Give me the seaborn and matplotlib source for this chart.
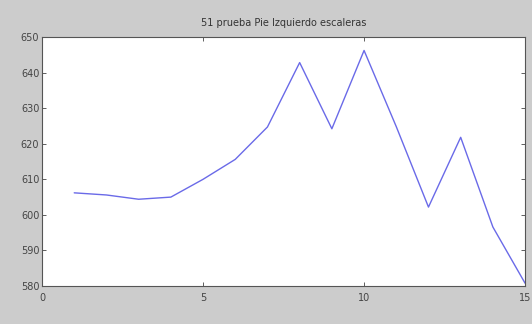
import matplotlib
matplotlib.use("Agg")
import matplotlib.pyplot as plt
import seaborn as sns
import pandas as pd

# Sample index and measured values
muestras = list(range(1, 16))
valores = [606.2, 605.6, 604.4, 605.0, 610.0, 615.6, 624.7, 642.8, 624.2,
           646.2, 624.8, 602.2, 621.8, 596.6, 580.8]
x_ticks = [0, 5, 10, 15]
y_ticks = [580, 590, 600, 610, 620, 630, 640, 650]
titulo = "51 prueba Pie Izquierdo escaleras"

df = pd.DataFrame({"muestra": muestras, "valor": valores})

sns.set_theme(style="white")
plt.rcParams["font.family"] = ["DejaVu Sans"]

fig = plt.figure(figsize=(5.32, 3.24), dpi=100, facecolor="#cccccc")
ax = fig.add_axes([0.079, 0.117, 0.908, 0.769])
ax.set_facecolor("white")

sns.lineplot(data=df, x="muestra", y="valor", ax=ax, color="#6a6ae8", linewidth=1.0)

ax.set_xlim(0, 15)
ax.set_ylim(580, 650)
ax.set_xticks(x_ticks)
ax.set_yticks(y_ticks)
ax.set_xlabel("")
ax.set_ylabel("")
ax.set_title(titulo, fontsize=7, color="#333333", pad=8)

ax.tick_params(direction="in", length=3, width=0.6, labelsize=7, colors="#444444",
               top=True, right=True, bottom=True, left=True, pad=2)
ax.tick_params(axis="x", pad=5)
for s in ax.spines.values():
    s.set_color("#555555")
    s.set_linewidth(0.8)
    s.set_visible(True)

fig.savefig("out.png", dpi=100, facecolor=fig.get_facecolor())
